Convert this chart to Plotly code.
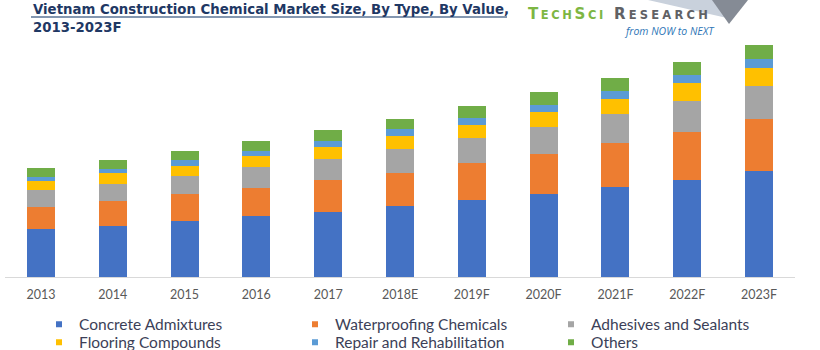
import plotly.graph_objects as go

years = ["2013", "2014", "2015", "2016", "2017", "2018E", "2019F", "2020F", "2021F", "2022F", "2023F"]
concrete_admixtures = [47.7, 51.3, 56.0, 60.7, 65.3, 71.0, 76.7, 83.3, 90.3, 97.3, 105.7]
waterproofing = [22.6, 24.7, 26.7, 28.3, 31.7, 33.3, 37.0, 40.0, 43.4, 48.0, 52.0]
adhesives_sealants = [16.4, 17.3, 18.3, 20.7, 21.3, 23.7, 25.0, 27.0, 29.3, 31.0, 33.6]
flooring = [9.3, 10.4, 10.3, 11.0, 12.0, 13.3, 13.3, 15.0, 15.3, 17.4, 18.0]
repair = [4.0, 4.6, 5.4, 5.8, 5.7, 6.4, 7.3, 6.7, 8.0, 8.0, 8.4]
others = [9.0, 8.7, 9.3, 9.5, 10.7, 10.3, 11.7, 12.7, 12.4, 13.0, 14.6]

series_names = ["Concrete Admixtures", "Waterproofing Chemicals", "Adhesives and Sealants",
                "Flooring Compounds", "Repair and Rehabilitation", "Others"]
series_values = [concrete_admixtures, waterproofing, adhesives_sealants, flooring, repair, others]
colors = ["#4472C4", "#ED7D31", "#A5A5A5", "#FFC000", "#5B9BD5", "#70AD47"]

title_line1 = "Vietnam Construction Chemical Market Size, By Type, By Value,"
title_line2 = "2013-2023F"

W, H = 820, 350
ML, MR, MT, MB = 5, 25, 40, 73
PW, PH = W - ML - MR, H - MT - MB


def px(x):
    return (x - ML) / PW


def py(y):
    return (H - MB - y) / PH


fig = go.Figure()
for name, vals, col in zip(series_names, series_values, colors):
    fig.add_trace(go.Bar(x=years, y=vals, name=name, marker=dict(color=col, line=dict(width=0)),
                         showlegend=False))
for i, (name, col) in enumerate(zip(series_names, colors)):
    fig.add_trace(go.Scatter(x=[None], y=[None], mode="markers", name=name,
                             legend="legend" if i < 3 else "legend2",
                             marker=dict(symbol="square", size=6, color=col)))

legend_common = dict(orientation="h", xanchor="left", yanchor="middle",
                     entrywidth=211, entrywidthmode="pixels", itemwidth=30,
                     font=dict(family="Lato", size=15.5, color="#3C3F58"),
                     traceorder="normal", bgcolor="rgba(0,0,0,0)")

fig.update_layout(
    width=W, height=H, barmode="stack", bargap=0.61,
    margin=dict(l=ML, r=MR, t=MT, b=MB, autoexpand=False),
    plot_bgcolor="white", paper_bgcolor="white",
    xaxis=dict(showgrid=False, showline=True, linecolor="#D9D9D9", linewidth=1,
               tickfont=dict(family="Lato", size=12.5, color="#595959"),
               ticks="", ticklabelstandoff=6, fixedrange=True),
    yaxis=dict(visible=False, range=[0, PH], fixedrange=True),
    legend=dict(x=px(39), y=py(324.7), **legend_common),
    legend2=dict(x=px(39), y=py(342.7), **legend_common),
    showlegend=True,
)

# Title
fig.add_annotation(text="<b>" + title_line1 + "</b>", xref="paper", yref="paper",
                   x=px(31), y=py(0), xanchor="left", yanchor="top", showarrow=False,
                   font=dict(family="DejaVu Sans", size=13.3, color="#1F3864"))
fig.add_annotation(text="<b>" + title_line2 + "</b>", xref="paper", yref="paper",
                   x=px(31), y=py(28), xanchor="left", yanchor="middle", showarrow=False,
                   font=dict(family="DejaVu Sans", size=13.3, color="#1F3864"))
fig.add_shape(type="line", xref="paper", yref="paper", x0=px(31), x1=px(507), y0=py(17), y1=py(17),
              line=dict(color="#8497B0", width=2))

# Logo graphic
fig.add_shape(type="path", xref="paper", yref="paper",
              path=f"M {px(648)},{py(0)} L {px(722)},{py(0)} L {px(727)},{py(18)} Z",
              fillcolor="#C9D1DC", line=dict(width=0))
fig.add_shape(type="path", xref="paper", yref="paper",
              path=f"M {px(712)},{py(0)} L {px(748)},{py(0)} L {px(729)},{py(24)} Z",
              fillcolor="#858B95", line=dict(width=0))

s = "font-size:11.5px"
logo_green = f"T<span style='{s}'>ECH</span>S<span style='{s}'>CI</span>"
logo_gray = f"R<span style='{s}'>ESEARCH</span>"
fig.add_annotation(text=f"<span style='letter-spacing:2.6px'><b>{logo_green}</b></span>",
                   xref="paper", yref="paper",
                   x=px(526), y=py(14), xanchor="left", yanchor="middle", showarrow=False,
                   font=dict(family="DejaVu Sans", size=15, color="#7DB643"))
fig.add_annotation(text=f"<span style='letter-spacing:3.2px'><b>{logo_gray}</b></span>",
                   xref="paper", yref="paper",
                   x=px(612), y=py(14), xanchor="left", yanchor="middle", showarrow=False,
                   font=dict(family="DejaVu Sans", size=15, color="#606165"))
fig.add_annotation(text="<i>from NOW to NEXT</i>", xref="paper", yref="paper",
                   x=px(622), y=py(31), xanchor="left", yanchor="middle", showarrow=False,
                   font=dict(family="Open Sans", size=10.5, color="#2E75B6"))

fig.write_html("out.html")
